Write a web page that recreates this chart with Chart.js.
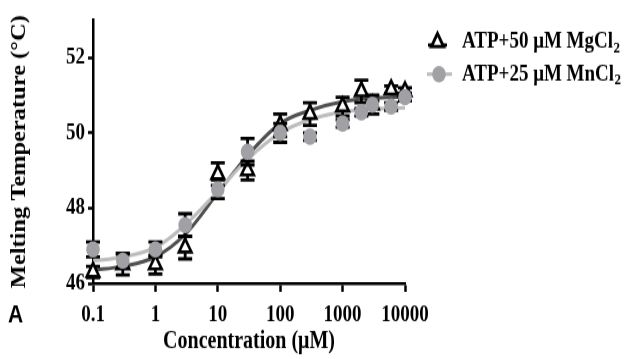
<!DOCTYPE html>
<html>
<head>
<meta charset="utf-8">
<script src="https://cdn.jsdelivr.net/npm/chart.js@4.4.1/dist/chart.umd.min.js"></script>
<style>
  html { overflow: hidden; }
  html, body { margin: 0; padding: 0; background: #fff; width: 633px; height: 359px; }
  /* the figure is drawn a bit squat and stretched vertically, like the printed panel */
  #wrap { width: 633px; height: 294px; transform: scaleY(1.2211); transform-origin: 0 0; }
</style>
</head>
<body>
<div id="wrap"><canvas id="meltChart"></canvas></div>
<script>
// Concentration (µM) of each measured point
const concentrations = [0.1, 0.3, 1, 3, 10, 30, 100, 300, 1000, 2000, 3000, 6000, 10000];

// ATP + 50 µM MgCl2: mean Tm and error
const mgTm  = [46.3, 46.5, 46.5, 46.95, 48.9, 49.0, 50.2, 50.5, 50.7, 51.1, 50.75, 51.15, 51.1];
const mgErr = [0.15, 0.28, 0.25, 0.3, 0.3, 0.25, 0.3, 0.3, 0.25, 0.3, 0.25, 0.1, 0.1];

// ATP + 25 µM MnCl2: mean Tm and error
const mnTm  = [46.9, 46.6, 46.9, 47.55, 48.5, 49.5, 50.0, 49.9, 50.25, 50.55, 50.75, 50.7, 50.95];
const mnErr = [0.2, 0.2, 0.2, 0.3, 0.25, 0.35, 0.25, 0.1, 0.1, 0.1, 0.1, 0.1, 0.1];

// fitted dose-response curves, sampled every half decade
const fitConc = [0.1, 0.3, 1, 3, 10, 30, 100, 300, 1000, 3000, 10000];
const mgFit = [46.35, 46.45, 46.7, 47.3, 48.4, 49.4, 50.25, 50.6, 50.83, 50.92, 50.96];
const mnFit = [46.6, 46.7, 46.95, 47.55, 48.45, 49.3, 50.0, 50.35, 50.56, 50.64, 50.67];

const xTicks = [0.1, 1, 10, 100, 1000, 10000];
const yTicks = [46, 48, 50, 52];
const legendLabels = [['ATP+50 \u03bcM MgCl', '2'], ['ATP+25 \u03bcM MnCl', '2']];

const pts = (xs, ys) => xs.map((x, i) => ({ x: x, y: ys[i] }));

const SERIF = '"Liberation Serif", "Times New Roman", serif';
const GREY = '#a0a0a5';

// Barras de error dibujadas justo antes de los puntos de cada serie
const errorBars = {
    id: 'errorBars',
    beforeDatasetDraw(chart, args) {
        const ds = chart.data.datasets[args.index];
        if (!ds.errors) return;
        const y = chart.scales.y;
        const ctx = chart.ctx;
        ctx.save();
        ctx.strokeStyle = '#000';
        ctx.lineWidth = 2.8;
        args.meta.data.forEach((el, i) => {
            const v = ds.data[i].y;
            const top = y.getPixelForValue(v + ds.errors[i]);
            const bot = y.getPixelForValue(v - ds.errors[i]);
            ctx.beginPath();
            ctx.moveTo(el.x, top); ctx.lineTo(el.x, bot);
            ctx.moveTo(el.x - 7, top); ctx.lineTo(el.x + 7, top);
            ctx.moveTo(el.x - 7, bot); ctx.lineTo(el.x + 7, bot);
            ctx.stroke();
        });
        ctx.restore();
    }
};

// Leyenda a la derecha y letra del panel
const sideLegend = {
    id: 'sideLegend',
    afterDraw(chart) {
        const ctx = chart.ctx;
        const rows = [34.4, 60.7];
        ctx.save();

        // row 1: open triangle on a black line
        ctx.strokeStyle = '#000';
        ctx.lineWidth = 2.8;
        ctx.beginPath();
        ctx.moveTo(428, rows[0] + 2.5); ctx.lineTo(447, rows[0] + 2.5);
        ctx.stroke();
        ctx.fillStyle = '#fff';
        ctx.beginPath();
        ctx.moveTo(437.5, rows[0] - 7);
        ctx.lineTo(443.6, rows[0] + 3.8);
        ctx.lineTo(431.4, rows[0] + 3.8);
        ctx.closePath();
        ctx.fill();
        ctx.stroke();

        // row 2: grey dot on a grey line
        ctx.strokeStyle = '#bdbdbd';
        ctx.lineWidth = 3;
        ctx.beginPath();
        ctx.moveTo(427, rows[1]); ctx.lineTo(452, rows[1]);
        ctx.stroke();
        ctx.fillStyle = GREY;
        ctx.beginPath();
        ctx.arc(439, rows[1], 6.8, 0, Math.PI * 2);
        ctx.fill();

        ctx.fillStyle = '#000';
        ctx.textBaseline = 'middle';
        legendLabels.forEach((lab, i) => {
            ctx.font = 'bold 19px ' + SERIF;
            ctx.fillText(lab[0], 462, rows[i]);
            const w = ctx.measureText(lab[0]).width;
            ctx.font = 'bold 13px ' + SERIF;
            ctx.fillText(lab[1], 462 + w + 0.5, rows[i] + 5);
        });

        ctx.font = 'bold 21px "Liberation Sans", Arial, sans-serif';
        ctx.fillText('A', 8, 258);
        ctx.restore();
    }
};

const ctx = document.getElementById('meltChart');

new Chart(ctx, {
    type: 'scatter',
    data: {
        datasets: [
            {
                label: 'fit Mg',
                type: 'line',
                data: pts(fitConc, mgFit),
                borderColor: '#505050',
                borderWidth: 3,
                pointRadius: 0,
                cubicInterpolationMode: 'monotone',
                clip: false,
                order: 4
            },
            {
                label: 'fit Mn',
                type: 'line',
                data: pts(fitConc, mnFit),
                borderColor: '#bdbdbd',
                borderWidth: 3,
                pointRadius: 0,
                cubicInterpolationMode: 'monotone',
                clip: false,
                order: 3
            },
            {
                label: legendLabels[0].join(''),
                data: pts(concentrations, mgTm),
                errors: mgErr,
                pointStyle: 'triangle',
                pointRadius: 7.2,
                backgroundColor: '#fff',
                borderColor: '#000',
                borderWidth: 2.6,
                showLine: false,
                clip: false,
                order: 2
            },
            {
                label: legendLabels[1].join(''),
                data: pts(concentrations, mnTm),
                errors: mnErr,
                pointStyle: 'circle',
                pointRadius: 6.8,
                backgroundColor: GREY,
                borderWidth: 0,
                showLine: false,
                clip: false,
                order: 1
            }
        ]
    },
    options: {
        responsive: true,
        maintainAspectRatio: false,
        animation: false,
        layout: { padding: { left: 0, right: 228, top: 16.4, bottom: 0 } },
        plugins: {
            legend: { display: false },
            tooltip: { enabled: false }
        },
        scales: {
            x: {
                type: 'logarithmic',
                min: 0.1,
                max: 10000,
                afterBuildTicks: s => { s.ticks = xTicks.map(v => ({ value: v })); },
                afterFit: s => { s.height = 62; },
                ticks: {
                    color: '#000',
                    font: { family: SERIF, size: 19, weight: 'bold' },
                    padding: 8,
                    maxRotation: 0,
                    autoSkip: false,
                    callback: v => String(v)
                },
                grid: { drawOnChartArea: false, tickLength: 7, tickWidth: 2.5, tickColor: '#000' },
                border: { color: '#000', width: 2.5 },
                title: {
                    display: true,
                    text: 'Concentration (\u03bcM)',
                    color: '#000',
                    font: { family: SERIF, size: 20, weight: 'bold' },
                    padding: { top: 0, bottom: 2 }
                }
            },
            y: {
                min: 46,
                max: 53,
                afterBuildTicks: s => { s.ticks = yTicks.map(v => ({ value: v })); },
                afterFit: s => { s.width = 93; },
                ticks: {
                    color: '#000',
                    font: { family: SERIF, size: 19, weight: 'bold' },
                    padding: 3
                },
                grid: { drawOnChartArea: false, tickLength: 5, tickWidth: 2.5, tickColor: '#000' },
                border: { color: '#000', width: 2.5 },
                title: {
                    display: true,
                    text: 'Melting Temperature (\u00b0C)',
                    color: '#000',
                    font: { family: SERIF, size: 20, weight: 'bold' },
                    padding: { top: 8, bottom: 0 }
                }
            }
        }
    },
    plugins: [errorBars, sideLegend]
});
</script>
</body>
</html>
